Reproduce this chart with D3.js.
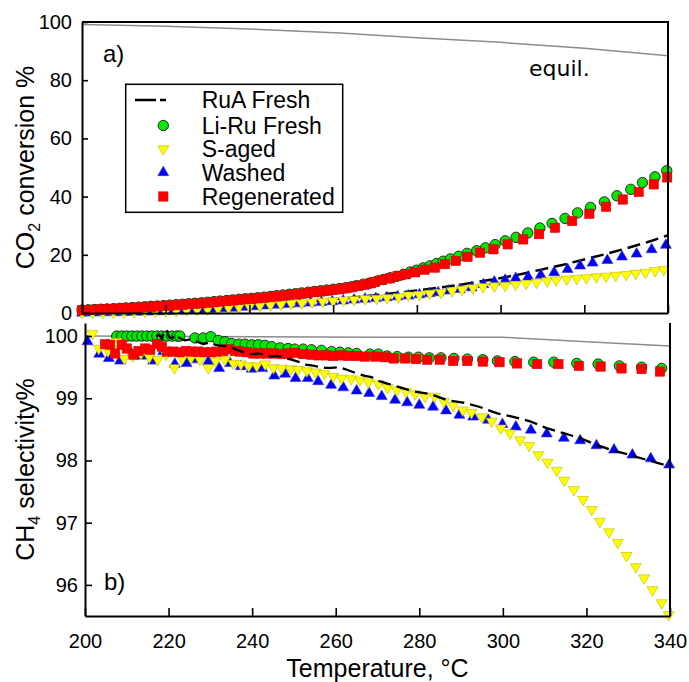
<!DOCTYPE html>
<html>
<head>
<meta charset="utf-8">
<script src="https://cdn.jsdelivr.net/npm/d3@7"></script>
<style>
  body { margin: 0; background: #fff; }
  svg { display: block; font-family: "Liberation Sans", Arial, sans-serif; }
</style>
</head>
<body>
<div id="chart"></div>
<script>
// ---- data: [temperature °C, value] ----
const xTicks = [200, 220, 240, 260, 280, 300, 320, 340];
const convTicks = [0, 20, 40, 60, 80, 100];
const selTicks = [96, 97, 98, 99, 100];
const legendLabels = ["RuA Fresh", "Li-Ru Fresh", "S-aged", "Washed", "Regenerated"];

// panel a) CO2 conversion %
const equilConv = [[200, 99.1], [220, 98.5], [240, 97.6], [261.6, 96.2], [280, 94.6], [300, 93.0], [320, 91.0], [340, 88.4]];

const ruaConv = [[200, 0.2], [210, 0.5], [220, 1.0], [230, 1.6], [240, 2.4], [250, 3.4], [260, 4.7], [270, 6.1],
  [280, 7.7], [290, 9.6], [300, 12.0], [305, 13.4], [310, 15.0], [315, 16.6], [320, 18.4], [325, 20.2],
  [330, 22.2], [335, 24.3], [340, 26.7]];

const liRuConv = [[200, 1.0], [201.5, 1.1], [203, 1.2], [204.5, 1.3], [206, 1.4], [207.5, 1.5], [209, 1.6],
  [210.5, 1.75], [212, 1.9], [213.5, 2.0], [215, 2.15], [216.5, 2.3], [218, 2.4], [219.5, 2.55], [221, 2.7],
  [222.5, 2.85], [224, 3.0], [225.5, 3.2], [227, 3.35], [228.5, 3.5], [230, 3.7], [231.5, 3.9], [233, 4.1],
  [234.5, 4.3], [236, 4.5], [237.5, 4.7], [239, 4.9], [240.5, 5.05], [242, 5.25], [243.5, 5.45], [245, 5.7],
  [246.5, 5.95], [248, 6.2], [249.5, 6.45], [251, 6.65], [252.5, 6.9], [254, 7.15], [255.5, 7.4], [257, 7.65],
  [258.5, 7.9], [260, 8.15], [261.5, 8.4], [263, 8.7], [264.4, 9.0], [265.6, 9.4], [267.2, 9.9], [268.8, 10.3],
  [270.4, 10.9], [272.0, 11.5], [273.6, 12.1], [275.2, 12.6], [276.8, 13.3], [278.4, 14.1], [279.9, 14.7],
  [281.5, 15.5], [283.1, 16.2], [284.7, 17.0], [286.3, 17.8], [288.0, 18.6], [290.0, 19.5], [292.0, 20.5],
  [294.3, 21.4], [296.4, 22.4], [298.7, 23.5], [301.1, 24.8], [303.7, 26.0], [306.5, 27.5], [309.4, 29.2],
  [312.3, 30.8], [315.4, 32.5], [318.4, 34.4], [321.5, 36.3], [324.8, 38.2], [327.8, 40.3], [331.1, 42.5],
  [333.9, 44.8], [336.9, 46.8], [339.7, 48.9]];

const sAgedConv = [[200, 0.1], [202.5, 0.15], [205, 0.2], [207.5, 0.3], [210, 0.35], [212.5, 0.4], [215, 0.5],
  [217.5, 0.6], [220, 0.7], [222.5, 0.8], [225, 1.0], [227.5, 1.15], [230, 1.35], [232.5, 1.55], [235, 1.8],
  [237.5, 2.0], [240, 2.3], [242.5, 2.5], [245, 2.75], [247.5, 3.0], [250, 3.2], [252.5, 3.45], [255, 3.7],
  [257.5, 3.95], [260, 4.15], [262.5, 4.4], [265, 4.6], [267.7, 4.9], [270.4, 5.0], [272.9, 5.2], [275.6, 5.5],
  [278.0, 6.1], [280.6, 6.3], [283.1, 6.7], [285.8, 7.0], [288.4, 7.6], [290.8, 8.1], [293.4, 8.6], [295.8, 9.0],
  [298.5, 9.3], [301.1, 9.5], [303.6, 9.8], [306.1, 10.1], [308.6, 10.5], [311.1, 11.0], [313.3, 11.3],
  [315.8, 11.6], [318.2, 11.8], [320.5, 12.1], [322.9, 12.4], [325.2, 12.6], [327.5, 12.9], [330.0, 13.2],
  [332.3, 13.6], [334.6, 13.9], [336.9, 14.5], [339.0, 14.9]];

const washedConv = [[200, 0.0], [202.6, 0.05], [205.2, 0.1], [207.8, 0.15], [210.4, 0.25], [213, 0.3], [215.6, 0.4],
  [218.2, 0.5], [220.8, 0.6], [223.4, 0.75], [226, 0.9], [228.6, 1.1], [231.2, 1.3], [233.8, 1.5], [236.4, 1.7],
  [239, 2.0], [241.6, 2.2], [244.2, 2.5], [246.8, 2.75], [249.4, 3.0], [252, 3.2], [254.6, 3.45], [257.2, 3.7],
  [259.8, 3.95], [262.4, 4.2], [265, 4.5], [267.6, 4.8], [270.2, 5.0], [272.8, 5.3], [275.4, 5.6], [278, 5.9],
  [280.6, 6.3], [283, 6.7], [285.1, 7.0], [287.5, 7.6], [290.3, 8.1], [293.1, 8.7], [295.9, 9.8], [298.5, 10.7],
  [301.1, 11.3], [303.6, 11.9], [306.6, 12.4], [309.6, 13.0], [312.8, 13.9], [316.0, 15.0], [319.0, 16.2],
  [322.0, 17.2], [325.5, 18.1], [329.0, 19.3], [332.5, 20.3], [336.1, 21.8], [339.5, 23.3]];

const regenConv = [[200, 0.9], [201.5, 1.0], [203, 1.1], [204.5, 1.2], [206, 1.3], [207.5, 1.4], [209, 1.5],
  [210.5, 1.6], [212, 1.75], [213.5, 1.85], [215, 2.0], [216.5, 2.15], [218, 2.25], [219.5, 2.4], [221, 2.55],
  [222.5, 2.7], [224, 2.85], [225.5, 3.0], [227, 3.15], [228.5, 3.3], [230, 3.5], [231.5, 3.7], [233, 3.9],
  [234.5, 4.1], [236, 4.3], [237.5, 4.5], [239, 4.7], [240.5, 4.85], [242, 5.05], [243.5, 5.25], [245, 5.5],
  [246.5, 5.7], [248, 5.95], [249.5, 6.2], [251, 6.4], [252.5, 6.65], [254, 6.9], [255.5, 7.15], [257, 7.4],
  [258.5, 7.65], [260, 7.9], [261.5, 8.15], [263, 8.5], [264.5, 8.85], [266, 9.25], [267.5, 9.7], [269, 10.2],
  [270.0, 10.7], [271.7, 11.4], [273.6, 11.9], [275.4, 12.7], [277.4, 13.3], [279.6, 14.0], [281.9, 14.9],
  [284.3, 15.6], [286.7, 16.8], [289.3, 17.9], [292.1, 19.3], [295.1, 20.7], [298.3, 21.9], [301.7, 23.6],
  [305.4, 25.3], [309.2, 27.1], [313.0, 29.3], [317.1, 31.6], [321.2, 34.1], [325.2, 36.5], [329.2, 39.0],
  [333.0, 41.6], [336.6, 44.2], [339.8, 46.6]];

// panel b) CH4 selectivity %
const equilSel = [[200, 100.0], [270, 99.98], [300, 99.98], [320, 99.91], [340, 99.84]];

const ruaSel = [[217.0, 99.99], [217.8, 100.02], [218.4, 99.96], [219.0, 100.07], [219.5, 100.1], [220.2, 99.98],
  [220.8, 99.96], [221.5, 100.02], [222.3, 99.98], [223.9, 99.93], [225.5, 99.95], [227.1, 99.90], [228.3, 99.87],
  [229.9, 99.90], [231.1, 99.86], [231.9, 99.85], [233.5, 99.84], [235.1, 99.81], [236.7, 99.77], [238.3, 99.73],
  [239.9, 99.71], [241.5, 99.72], [243.1, 99.70], [244.7, 99.67], [246.3, 99.68], [247.8, 99.65], [249.4, 99.62],
  [251.0, 99.59], [252.6, 99.54], [254.2, 99.53], [255.8, 99.51], [257.4, 99.49], [259.0, 99.49], [260.6, 99.50],
  [262.2, 99.47], [264.6, 99.41], [267.0, 99.36], [268.6, 99.34], [270.6, 99.27], [274.6, 99.19], [278.6, 99.11],
  [282.6, 99.07], [286.6, 98.97], [290.5, 98.93], [294.5, 98.86], [298.5, 98.76], [302.5, 98.70], [306.5, 98.63],
  [310.5, 98.52], [314.5, 98.44], [318.5, 98.36], [322.4, 98.25], [326.4, 98.16], [330.4, 98.09], [334.4, 98.01],
  [339.6, 97.91]];

const liRuSel = [[207.6, 100.0], [208.8, 100.0], [210.0, 100.0], [211.2, 100.0], [212.4, 100.0], [213.6, 100.0],
  [214.8, 100.0], [216.0, 100.0], [217.2, 100.0], [218.4, 100.0], [219.6, 100.0], [220.8, 100.0], [222.0, 100.0],
  [222.7, 100.0], [226.3, 99.97], [228.3, 99.97], [230.1, 99.99], [231.9, 99.93], [233.5, 99.91], [235.1, 99.88],
  [236.8, 99.87], [238.3, 99.87], [239.9, 99.86], [241.5, 99.86], [243.1, 99.85], [244.7, 99.83], [246.7, 99.81],
  [248.6, 99.80], [250.2, 99.79], [252.2, 99.79], [254.2, 99.78], [256.6, 99.77], [259.0, 99.75], [261.0, 99.74],
  [263.0, 99.73], [265.0, 99.72], [268.2, 99.71], [270.2, 99.71], [272.3, 99.68], [274.7, 99.67], [277.4, 99.66],
  [279.8, 99.66], [282.4, 99.65], [285.2, 99.65], [288.3, 99.64], [291.5, 99.63], [295.2, 99.62], [298.7, 99.60],
  [302.9, 99.59], [307.4, 99.58], [312.2, 99.58], [317.7, 99.56], [322.8, 99.55], [327.9, 99.52], [333.2, 99.50],
  [338.0, 99.48]];

const sAgedSel = [[201.8, 100.04], [203.3, 99.80], [205.5, 99.76], [207.6, 99.91], [209.4, 99.64], [211.4, 99.68],
  [213.4, 99.72], [215.4, 99.66], [217.4, 99.62], [219.4, 99.70], [221.4, 99.49], [223.3, 99.64], [225.4, 99.65],
  [227.5, 99.62], [229.5, 99.49], [231.3, 99.60], [233.5, 99.62], [235.5, 99.56], [237.3, 99.55], [239.2, 99.52],
  [241.1, 99.52], [243.1, 99.55], [245.1, 99.49], [247.1, 99.48], [249.3, 99.47], [251.0, 99.46], [253.1, 99.44],
  [255.2, 99.42], [257.3, 99.40], [259.4, 99.35], [261.4, 99.32], [263.7, 99.31], [265.8, 99.29], [267.8, 99.26],
  [270.2, 99.23], [272.4, 99.17], [274.6, 99.13], [276.8, 99.11], [279.0, 99.07], [281.4, 99.03], [283.7, 99.03],
  [285.9, 98.95], [288.1, 98.88], [290.4, 98.81], [292.5, 98.77], [295.0, 98.70], [297.3, 98.63], [299.5, 98.52],
  [301.7, 98.44], [304.1, 98.33], [306.3, 98.24], [308.5, 98.09], [310.7, 97.97], [312.9, 97.84], [314.7, 97.68],
  [317.0, 97.53], [319.2, 97.37], [321.3, 97.21], [323.2, 97.02], [325.4, 96.85], [327.5, 96.68], [329.6, 96.47],
  [331.8, 96.29], [333.8, 96.11], [335.8, 95.92], [338.0, 95.71], [339.7, 95.52]];

const washedSel = [[200.6, 99.91], [203.4, 99.71], [205.7, 99.64], [208.4, 99.60], [211.2, 99.71], [213.7, 99.68],
  [216.3, 99.60], [218.7, 99.75], [221.5, 99.55], [224.3, 99.56], [226.7, 99.62], [229.5, 99.59], [232.1, 99.48],
  [234.7, 99.56], [237.3, 99.51], [239.9, 99.47], [242.4, 99.48], [245.3, 99.36], [247.9, 99.39], [250.4, 99.32],
  [253.3, 99.32], [255.8, 99.27], [258.9, 99.21], [261.8, 99.17], [265.0, 99.12], [268.0, 99.08], [271.0, 99.03],
  [274.2, 98.97], [277.1, 98.93], [280.0, 98.89], [283.3, 98.86], [286.4, 98.80], [289.6, 98.73], [292.9, 98.70],
  [296.5, 98.65], [299.9, 98.58], [303.1, 98.54], [306.7, 98.49], [310.5, 98.43], [314.6, 98.36], [318.5, 98.32],
  [322.4, 98.24], [326.6, 98.17], [331.0, 98.09], [335.4, 98.03], [339.8, 97.93]];

const regenSel = [[204.8, 99.87], [206.0, 99.86], [207.2, 99.72], [208.8, 99.86], [210.0, 99.80], [211.6, 99.70],
  [212.8, 99.76], [214.4, 99.80], [215.6, 99.78], [217.2, 99.87], [218.4, 99.83], [219.6, 99.75], [221.1, 99.75],
  [222.7, 99.74], [224.2, 99.76], [225.5, 99.75], [227.1, 99.75], [228.5, 99.74], [230.1, 99.74], [231.5, 99.75],
  [233.1, 99.76], [234.3, 99.79], [235.9, 99.76], [237.1, 99.75], [238.7, 99.74], [240.3, 99.72], [241.9, 99.72],
  [243.5, 99.72], [245.1, 99.72], [247.1, 99.71], [248.7, 99.72], [250.3, 99.73], [252.2, 99.71], [254.2, 99.70],
  [255.8, 99.69], [257.8, 99.69], [259.4, 99.68], [261.4, 99.69], [263.0, 99.68], [265.0, 99.68], [267.0, 99.67],
  [269.5, 99.67], [271.8, 99.66], [273.9, 99.64], [276.6, 99.64], [279.2, 99.63], [281.9, 99.62], [284.9, 99.62],
  [288.1, 99.60], [291.5, 99.60], [295.2, 99.59], [299.2, 99.58], [303.4, 99.56], [308.2, 99.55], [313.3, 99.55],
  [318.2, 99.52], [323.4, 99.51], [328.4, 99.48], [333.2, 99.47], [337.6, 99.43]];

// ---- styles ----
const greenFill = "#00e800", redFill = "#ff0000", yellowFill = "#ffff00", blueFill = "#0000ff";
const fontSans = "'Liberation Sans', Arial, sans-serif";

const svg = d3.select("#chart").append("svg")
  .attr("width", 689)
  .attr("height", 682);

// scales
const x1 = d3.scaleLinear().domain([200, 340]).range([82, 668]);
const y1 = d3.scaleLinear().domain([0, 100]).range([313, 22]);
const x2 = d3.scaleLinear().domain([200, 340]).range([85, 670]);
const y2 = d3.scaleLinear().domain([95.5, 100.21]).range([616, 323]);

const triUp = d3.symbol(d3.symbolTriangle, 52);

// marker helpers
const drawCircles = (g, data, x, y) => g.append("g").selectAll("circle")
  .data(data).join("circle")
  .attr("cx", d => x(d[0])).attr("cy", d => y(d[1])).attr("r", 5.2)
  .attr("fill", greenFill).attr("stroke", "#1a1a1a").attr("stroke-width", 0.9);

const drawSquares = (g, data, x, y) => g.append("g").selectAll("rect")
  .data(data).join("rect")
  .attr("x", d => x(d[0]) - 4.7).attr("y", d => y(d[1]) - 4.7)
  .attr("width", 9.4).attr("height", 9.4)
  .attr("fill", redFill).attr("stroke", "#d00000").attr("stroke-width", 0.5);

const drawTriangles = (g, data, x, y, down) => g.append("g").selectAll("path")
  .data(data).join("path")
  .attr("d", triUp)
  .attr("transform", d => `translate(${x(d[0])},${y(d[1])})${down ? " rotate(180)" : ""}`)
  .attr("fill", down ? yellowFill : blueFill)
  .attr("stroke", down ? "#b8b800" : "#3030c0").attr("stroke-width", 0.6);

const drawLine = (g, data, x, y, color, width, dash) => g.append("path")
  .datum(data)
  .attr("d", d3.line().x(d => x(d[0])).y(d => y(d[1])))
  .attr("fill", "none").attr("stroke", color).attr("stroke-width", width)
  .attr("stroke-dasharray", dash);

const styleAxis = (g, size) => {
  g.selectAll("text").attr("font-size", size).attr("font-family", fontSans).attr("fill", "#000");
  g.selectAll("line").attr("stroke", "#000").attr("stroke-width", 1.6);
  g.select(".domain").attr("stroke", "#000").attr("stroke-width", 2);
};

// ===== panel a =====
const pa = svg.append("g");

drawLine(pa, equilConv, x1, y1, "#8c8c8c", 1.5, null);
// dashed RuA line sits behind the markers here (hidden at low T)
drawLine(pa, ruaConv, x1, y1, "#000", 2.5, "13,6");
drawCircles(pa, liRuConv, x1, y1);
drawTriangles(pa, washedConv, x1, y1, false);
drawTriangles(pa, sAgedConv, x1, y1, true);
drawSquares(pa, regenConv, x1, y1);

pa.append("g")
  .attr("transform", "translate(0,313)")
  .call(d3.axisBottom(x1).tickValues(xTicks).tickSize(-8).tickSizeOuter(0).tickFormat(""))
  .call(g => styleAxis(g, 20));

pa.append("g")
  .attr("transform", "translate(82,0)")
  .call(d3.axisLeft(y1).tickValues(convTicks).tickSize(-6).tickSizeOuter(0).tickPadding(10))
  .call(g => styleAxis(g, 20));

// top and right border
pa.append("path")
  .attr("d", `M${x1(200)},${y1(100)}H${x1(340)}V${y1(0)}`)
  .attr("fill", "none").attr("stroke", "#000").attr("stroke-width", 2);

pa.append("text").attr("x", 103).attr("y", 62).text("a)")
  .attr("font-size", 24).attr("font-family", fontSans);

pa.append("text").attr("x", 529).attr("y", 76).text("equil.")
  .attr("font-size", 22).attr("font-family", "'DejaVu Sans', sans-serif");

// y title with subscript
const t1 = pa.append("text")
  .attr("transform", "translate(34,167.5) rotate(-90)")
  .attr("text-anchor", "middle")
  .attr("font-size", 25).attr("font-family", fontSans);
t1.append("tspan").text("CO");
t1.append("tspan").text("2").attr("font-size", 16).attr("dy", 6);
t1.append("tspan").text(" conversion %").attr("dy", -6);

// legend
const lg = pa.append("g");
lg.append("rect").attr("x", 125.7).attr("y", 84.3).attr("width", 217).attr("height", 128)
  .attr("fill", "#fff").attr("stroke", "#000").attr("stroke-width", 1.5);

const rowY = [100, 125.5, 149, 172.5, 196.5];
lg.selectAll("text").data(legendLabels).join("text")
  .attr("x", 201.7).attr("y", (d, i) => rowY[i] + 8.3)
  .attr("font-size", 23).attr("font-family", fontSans)
  .text(d => d);

lg.append("line").attr("x1", 135).attr("x2", 166).attr("y1", rowY[0]).attr("y2", rowY[0])
  .attr("stroke", "#000").attr("stroke-width", 2.5).attr("stroke-dasharray", "21,4");
lg.append("circle").attr("cx", 163.3).attr("cy", rowY[1]).attr("r", 5.2)
  .attr("fill", greenFill).attr("stroke", "#1a1a1a").attr("stroke-width", 0.9);
lg.append("path").attr("d", triUp).attr("transform", `translate(163.3,${rowY[2]}) rotate(180)`)
  .attr("fill", yellowFill).attr("stroke", "#b8b800").attr("stroke-width", 0.6);
lg.append("path").attr("d", triUp).attr("transform", `translate(163.3,${rowY[3]})`)
  .attr("fill", blueFill).attr("stroke", "#3030c0").attr("stroke-width", 0.6);
lg.append("rect").attr("x", 163.3 - 4.7).attr("y", rowY[4] - 4.7).attr("width", 9.4).attr("height", 9.4)
  .attr("fill", redFill).attr("stroke", "#d00000").attr("stroke-width", 0.5);

// ===== panel b =====
const pb = svg.append("g");

drawLine(pb, equilSel, x2, y2, "#8c8c8c", 1.5, null);
drawCircles(pb, liRuSel, x2, y2);
drawTriangles(pb, washedSel, x2, y2, false);
drawTriangles(pb, sAgedSel, x2, y2, true);
drawSquares(pb, regenSel, x2, y2);
drawLine(pb, ruaSel, x2, y2, "#000", 2.3, "13,6");

pb.append("g")
  .attr("transform", "translate(0,616)")
  .call(d3.axisBottom(x2).tickValues(xTicks).tickSize(-8).tickSizeOuter(0).tickPadding(18))
  .call(g => styleAxis(g, 20));

pb.append("g")
  .attr("transform", "translate(85,0)")
  .call(d3.axisLeft(y2).tickValues(selTicks).tickFormat(d3.format("d"))
    .tickSize(-7).tickSizeOuter(0).tickPadding(7))
  .call(g => styleAxis(g, 20));

// right border
pb.append("line")
  .attr("x1", x2(340)).attr("x2", x2(340)).attr("y1", y2.range()[1]).attr("y2", y2.range()[0])
  .attr("stroke", "#000").attr("stroke-width", 2);

pb.append("text").attr("x", 104).attr("y", 590).text("b)")
  .attr("font-size", 24).attr("font-family", fontSans);

const t2 = pb.append("text")
  .attr("transform", "translate(34,469.5) rotate(-90)")
  .attr("text-anchor", "middle")
  .attr("font-size", 25).attr("font-family", fontSans);
t2.append("tspan").text("CH");
t2.append("tspan").text("4").attr("font-size", 16).attr("dy", 6);
t2.append("tspan").text(" selectivity%").attr("dy", -6);

svg.append("text")
  .attr("x", (x2(200) + x2(340)) / 2).attr("y", 677)
  .attr("text-anchor", "middle")
  .attr("font-size", 25).attr("font-family", fontSans)
  .text("Temperature, °C");
</script>
</body>
</html>
